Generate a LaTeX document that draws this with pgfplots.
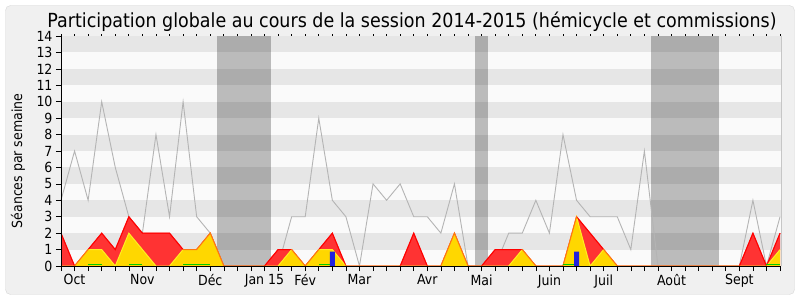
\documentclass[border=0pt]{standalone}
\usepackage{fontspec}
\setmainfont{DejaVu Sans}[FakeStretch=0.9]
\usepackage{pgfplots}
\pgfplotsset{compat=1.18}
\usepackage{pgfplotstable}

\definecolor{bgpanel}{HTML}{F0F0F0}
\definecolor{panelborder}{HTML}{D6D6D6}
\definecolor{banddark}{HTML}{E6E6E6}
\definecolor{bandlight}{HTML}{FAFAFA}
\definecolor{medline}{HTML}{B4B4B4}
\definecolor{redfill}{HTML}{FF3333}
\definecolor{yelfill}{HTML}{FFD700}
\definecolor{yelline}{HTML}{FFEE22}
\definecolor{greenl}{HTML}{00CC00}
\definecolor{bluebar}{HTML}{2222DD}

\pgfplotstableread{
w med red yel
0 4 2 0
1 7 0 0
2 4 1 1
3 10 2 1
4 6 1 0
5 3 3 2
6 2 2 1
7 8 2 0
8 3 2 0
9 10 1 1
10 3 1 1
11 2 2 2
12 0 0 0
13 0 0 0
14 0 0 0
15 0 0 0
16 0 1 0
17 3 1 1
18 3 0 0
19 9 1 1
20 4 2 1
21 3 0 0
22 0 0 0
23 5 0 0
24 4 0 0
25 5 0 0
26 3 2 0
27 3 0 0
28 2 0 0
29 5 2 2
30 0 0 0
31 0 0 0
32 0 1 0
33 2 1 0
34 2 1 1
35 4 0 0
36 2 0 0
37 8 0 0
38 4 3 3
39 3 2 0
40 3 1 1
41 3 0 0
42 1 0 0
43 7 0 0
44 0 0 0
45 0 0 0
46 0 0 0
47 0 0 0
48 0 0 0
49 0 0 0
50 0 0 0
51 4 2 0
52 0 0 0
53 3 2 1
}\data

\begin{document}
\begin{tikzpicture}
\path[use as bounding box] (0,0) rectangle (800bp,300bp);
\fill[white] (0,0) rectangle (800bp,300bp);
\draw[panelborder, fill=bgpanel, rounded corners=5bp] (5.5bp,5.5bp) rectangle (794.5bp,294.5bp);
\node[anchor=base, inner sep=0pt, font=\fontsize{19.5}{20}\selectfont] at (412bp,272bp)
  {Participation globale au cours de la session 2014-2015 (hémicycle et commissions)};
\node[rotate=90, anchor=center, inner sep=0pt, font=\fontsize{14}{14}\selectfont] at (18bp,139bp) {Séances par semaine};
\begin{axis}[
  at={(61bp,34bp)}, anchor=south west,
  scale only axis, width=720bp, height=230bp,
  xmin=0, xmax=53.07, ymin=0, ymax=14,
  axis lines=left, axis line style={-, black, line width=0.8bp},
  tick align=outside,
  ytick={0,...,14},
  xtick={1,6,11,15,18,22,27,31,36,40,45,50},
  xticklabels={Oct,Nov,Déc,Jan 15,Fév,Mar,Avr,Mai,Juin,Juil,Août,Sept},
  minor xtick={0,...,53},
  major tick length=5bp, minor tick length=5bp,
  tick style={black, line width=0.6bp},
  ticklabel style={font=\fontsize{14}{14}\selectfont},
  /pgf/number format/assume math mode=true,
  axis background/.style={fill=bandlight},
  axis on top, clip=false,
  unbounded coords=jump,
]
\fill[banddark] (axis cs:0,1) rectangle (axis cs:53.07,2);
\fill[banddark] (axis cs:0,3) rectangle (axis cs:53.07,4);
\fill[banddark] (axis cs:0,5) rectangle (axis cs:53.07,6);
\fill[banddark] (axis cs:0,7) rectangle (axis cs:53.07,8);
\fill[banddark] (axis cs:0,9) rectangle (axis cs:53.07,10);
\fill[banddark] (axis cs:0,11) rectangle (axis cs:53.07,12);
\fill[banddark] (axis cs:0,13) rectangle (axis cs:53.07,14);
\fill[black, opacity=0.25] (axis cs:11.5,0) rectangle (axis cs:15.5,14);
\fill[black, opacity=0.25] (axis cs:30.5,0) rectangle (axis cs:31.5,14);
\fill[black, opacity=0.25] (axis cs:43.5,0) rectangle (axis cs:48.5,14);
\draw[gray!45, line width=0.8bp] (axis cs:53.07,0) -- (axis cs:53.07,14);
\pgfplotsinvokeforeach{0,...,53}{\draw[black, line width=0.8bp] (axis cs:#1,14) -- ++(0,1.6bp);}
\addplot[medline, line width=0.9bp, mark=none] table[x=w,y=med]{\data};
\addplot[fill=redfill, draw=none, mark=none] table[x=w,y=red]{\data} \closedcycle;
\addplot[red, line width=1bp, mark=none] table[x=w,y=red]{\data};
\addplot[fill=yelfill, draw=none, mark=none] table[x=w,y=yel]{\data} \closedcycle;
\addplot[yelline, line width=1bp, mark=none] table[x=w,y=yel]{\data};
\addplot[red, opacity=0.5, line width=1bp, mark=none] table[x=w,y=red]{\data};
\addplot[greenl, line width=1.1bp, mark=none] coordinates {
 (2,0.08) (3,0.08) (3,nan) (5,0.08) (6,0.08) (6,nan) (9,0.08) (11,0.08) (11,nan)
 (19,0.08) (20,0.08) (20,nan) (37,0.08) (38,0.08) (38,nan) (52,0.08) (53,0.08)};
\addplot[ybar, bar width=5bp, fill=bluebar, draw=none] coordinates {(20,0.87) (38,0.87)};
\end{axis}
\end{tikzpicture}
\end{document}
